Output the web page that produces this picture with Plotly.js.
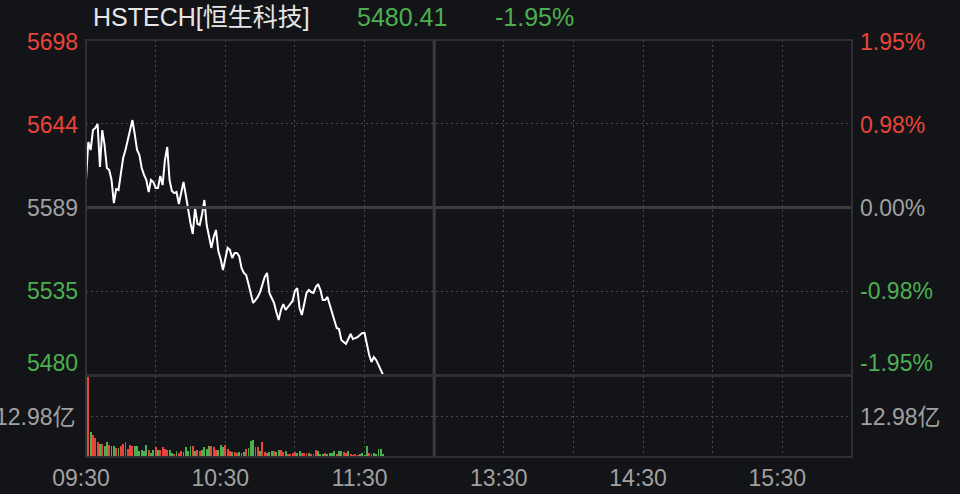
<!DOCTYPE html>
<html>
<head>
<meta charset="utf-8">
<script src="https://cdn.plot.ly/plotly-3.0.1.min.js"></script>
<style>
  html, body { margin: 0; padding: 0; background: #131418; }
  #chart { width: 960px; height: 494px; }
</style>
</head>
<body>
<div id="chart"></div>
<script>
// ---- Data ----
const indexName = 'HSTECH[恒生科技]';
const prevClose = 5589.4;
const timeLabels = ['09:30', '10:30', '11:30', '13:30', '14:30', '15:30'];
// one price per minute from 09:30
const prices = [
  5607.3, 5632.0, 5626.8, 5639.8, 5641.1, 5643.7, 5615.8, 5639.8, 5630.1, 5615.1,
  5613.8, 5607.3, 5592.3, 5601.4, 5600.8, 5610.6, 5621.6, 5626.8, 5633.3, 5641.8,
  5646.3, 5637.2, 5626.8, 5623.6, 5615.1, 5610.6, 5607.3, 5599.5, 5607.3, 5606.0,
  5602.1, 5602.1, 5609.9, 5604.0, 5620.3, 5628.8, 5607.3, 5600.1, 5598.8, 5599.5,
  5591.7, 5598.8, 5606.0, 5597.5, 5587.8, 5579.3, 5572.2, 5589.1, 5578.7, 5578.0,
  5585.2, 5594.3, 5578.0, 5569.6, 5563.1, 5570.2, 5574.8, 5561.1, 5555.9, 5548.7,
  5555.2, 5563.1, 5561.8, 5556.5, 5559.8, 5559.8, 5557.8, 5550.0, 5546.8, 5545.5,
  5539.6, 5532.5, 5527.3, 5529.2, 5531.2, 5534.4, 5539.6, 5544.2, 5546.8, 5533.8,
  5530.5, 5527.3, 5521.4, 5516.2, 5522.7, 5526.6, 5522.7, 5524.7, 5526.0, 5528.6,
  5535.1, 5537.0, 5524.0, 5519.5, 5526.6, 5533.8, 5535.7, 5534.4, 5533.8, 5537.7,
  5539.6, 5535.7, 5529.2, 5529.2, 5531.2, 5526.0, 5520.1, 5515.6, 5511.0, 5510.3,
  5503.2, 5501.9, 5500.6, 5503.8, 5507.1, 5503.8, 5504.5, 5505.1, 5506.4, 5507.7,
  5507.7, 5499.9, 5493.4, 5488.9, 5492.1, 5490.2, 5486.9, 5484.3, 5480.41
];
// turnover per minute (亿), minutes 1..128
const volumes = [
  25.96, 8.0, 7.2, 6.0, 4.9, 4.3, 4.3, 3.4, 4.9, 4.0,
  3.6, 3.4, 2.9, 2.9, 3.4, 4.3, 4.9, 2.7, 3.9, 3.4,
  3.6, 3.6, 2.0, 2.3, 2.0, 3.9, 2.3, 1.4, 2.3, 3.1,
  2.3, 2.3, 3.1, 2.7, 2.3, 2.3, 1.4, 1.1, 2.0, 1.4,
  2.0, 1.6, 3.3, 2.0, 3.6, 3.4, 2.0, 2.3, 2.0, 2.3,
  3.1, 2.7, 3.6, 3.4, 3.1, 2.3, 2.3, 3.9, 3.3, 3.9,
  2.7, 2.0, 1.6, 1.6,
  1.4, 1.6, 1.4, 1.6, 2.5, 2.9, 5.2, 5.6, 3.3, 3.3,
  2.0, 4.9, 1.6, 1.4, 1.6, 2.0, 2.0, 1.6, 2.3, 2.3,
  1.6, 2.0, 1.1, 1.1, 1.4, 1.6, 1.4, 2.0, 1.4, 1.4,
  1.2, 1.4, 1.1, 0.9, 2.3, 2.0, 1.1, 1.1, 1.2, 0.9,
  1.2, 1.2, 2.0, 1.1, 2.0, 2.0, 1.6, 1.4, 2.0, 0.9,
  0.7, 1.1, 0.7, 0.9, 1.2, 0.7, 3.6, 1.2, 0.9, 1.2,
  0.9, 2.5, 2.5, 0.9
];
// 1 = up (red), -1 = down (green)
const volDir = [
  1, -1, 1, 1, 1, -1, 1, -1, -1, 1,
  -1, -1, 1, -1, 1, 1, 1, 1, 1, 1,
  -1, -1, -1, -1, -1, -1, 1, -1, -1, 1,
  -1, 1, 1, 1, 1, -1, -1, 1, -1, 1,
  1, -1, -1, -1, -1, 1, -1, 1, 1, -1,
  -1, -1, -1, 1, 1, 1, -1, -1, -1, 1,
  1, 1, -1, 1,
  1, -1, -1, -1, 1, -1, -1, -1, 1, 1,
  -1, 1, 1, 1, -1, -1, 1, -1, -1, 1,
  1, -1, 1, 1, 1, 1, -1, -1, 1, 1,
  1, -1, 1, 1, 1, -1, -1, -1, 1, -1,
  -1, -1, -1, 1, -1, -1, 1, 1, -1, 1,
  1, 1, 1, -1, -1, -1, -1, 1, 1, -1,
  -1, -1, -1, -1
];

// ---- Styling ----
const BG = '#131418';
const RED = '#e8443a';
const GREEN = '#4caf50';
const GRAY = '#a0a0a0';
const FRAME = '#303034';
const GRID = '#4a4a4e';
const FONT = 'Liberation Sans, Arial, Noto Sans CJK SC, sans-serif';

const W = 960, H = 494;
const L = 86, R = 852, T = 40, B = 457;
const PRICE_BOTTOM = 375, VOL_TOP = 376;
const plotH = B - T, plotW = R - L;
const px2x = px => (px - L) / plotW;
const px2y = py => (B - py) / plotH;

const last = prices[prices.length - 1];
const maxDev = Math.max(...prices.map(p => Math.abs(p - prevClose))) / prevClose;
const topPct = Math.round(maxDev * 10000) / 100;           // e.g. 1.95
const round2 = v => Math.sign(v) * Math.round(Math.abs(v) * 100 + 1e-6) / 100;
const pct = v => round2(v).toFixed(2) + '%';
const ks = [1, 0.5, 0, -0.5, -1];
const levels = ks.map(k => prevClose * (1 + k * maxDev));
const pctLevels = ks.map(k => k * topPct);
const levelColors = [RED, RED, GRAY, GREEN, GREEN];
const levelShift = [-2, -1, 0, 0, 12];

const volMax = Math.max(...volumes);
const xMin = prices.map((_, i) => i);
const volX = volumes.map((_, i) => i + 1);

const traces = [
  {
    type: 'scatter', mode: 'lines', x: xMin, y: prices,
    xaxis: 'x', yaxis: 'y',
    line: { color: '#ffffff', width: 2 },
    hoverinfo: 'skip'
  },
  {
    type: 'bar', x: volX, y: volumes,
    xaxis: 'x', yaxis: 'y2',
    width: 0.82,
    marker: { color: volDir.map(d => d > 0 ? RED : GREEN), line: { width: 0 } },
    hoverinfo: 'skip'
  }
];

const gridVals = [];
for (let m = 0; m <= 330; m += 30) gridVals.push(m);
const gridText = gridVals.map(m => {
  const idx = [0, 60, 120, 180, 240, 300].indexOf(m);
  return idx >= 0 ? timeLabels[idx] : '';
});

const annotations = [];
// title row
const pctChange = (last / prevClose - 1) * 100;
[[indexName, 91, '#e6e6e6'], [last.toFixed(2), 355, GREEN], [pct(pctChange), 493, GREEN]].forEach(([t, px, c]) => {
  annotations.push({
    text: t, xref: 'paper', yref: 'paper', x: px2x(px), y: px2y(17),
    xanchor: 'left', yanchor: 'middle', showarrow: false,
    font: { family: FONT, size: 25, color: c }
  });
});
levels.forEach((lv, i) => {
  annotations.push({
    text: lv.toFixed(0), xref: 'paper', yref: 'y', x: px2x(80), y: lv,
    xanchor: 'right', yanchor: 'middle', yshift: levelShift[i], showarrow: false,
    font: { family: FONT, size: 23, color: levelColors[i] }
  });
  annotations.push({
    text: pct(pctLevels[i]), xref: 'paper', yref: 'y', x: px2x(858), y: lv,
    xanchor: 'left', yanchor: 'middle', yshift: levelShift[i], showarrow: false,
    font: { family: FONT, size: 23, color: levelColors[i] }
  });
});
const volLabel = (volMax / 2).toFixed(2) + '亿';
annotations.push({
  text: volLabel, xref: 'paper', yref: 'y2', x: px2x(78), y: volMax / 2,
  xanchor: 'right', yanchor: 'middle', showarrow: false,
  font: { family: FONT, size: 23, color: GRAY }
});
annotations.push({
  text: volLabel, xref: 'paper', yref: 'y2', x: px2x(858), y: volMax / 2,
  xanchor: 'left', yanchor: 'middle', showarrow: false,
  font: { family: FONT, size: 23, color: GRAY }
});

const shapes = [
  // mid (previous close) line
  { type: 'line', xref: 'paper', yref: 'y', x0: 0, x1: 1, y0: prevClose, y1: prevClose,
    line: { color: '#3c3c40', width: 3 } },
  // lunch break line
  { type: 'line', xref: 'x', yref: 'paper', x0: 150, x1: 150, y0: 0, y1: 1,
    line: { color: '#3c3c40', width: 3 } },
  // frames
  { type: 'rect', xref: 'paper', yref: 'paper', x0: 0, x1: 1, y0: px2y(PRICE_BOTTOM), y1: 1,
    line: { color: FRAME, width: 2 } },
  { type: 'rect', xref: 'paper', yref: 'paper', x0: 0, x1: 1, y0: 0, y1: px2y(VOL_TOP),
    line: { color: FRAME, width: 2 } }
];

const layout = {
  width: W, height: H,
  paper_bgcolor: BG, plot_bgcolor: BG,
  margin: { l: L, r: W - R, t: T, b: H - B, pad: 0 },
  showlegend: false,
  bargap: 0,
  font: { family: FONT, color: GRAY },
  xaxis: {
    domain: [0, 1], anchor: 'y2', range: [0, 330],
    tickmode: 'array', tickvals: gridVals, ticktext: gridText,
    showgrid: true, gridcolor: GRID, gridwidth: 1, griddash: '2px,3px',
    zeroline: false, showline: false, ticks: '',
    ticklabelshift: -5, ticklabelstandoff: 5,
    tickfont: { family: FONT, size: 23, color: GRAY },
    fixedrange: true
  },
  yaxis: {
    domain: [px2y(PRICE_BOTTOM), 1], anchor: 'x',
    range: [levels[4], levels[0]],
    tickmode: 'array', tickvals: levels, showticklabels: false,
    showgrid: true, gridcolor: GRID, gridwidth: 1, griddash: '2px,3px',
    zeroline: false, showline: false, ticks: '', fixedrange: true
  },
  yaxis2: {
    domain: [0, px2y(VOL_TOP)], anchor: 'x',
    range: [0, volMax * 1.005],
    tickmode: 'array', tickvals: [volMax / 2], showticklabels: false,
    showgrid: true, gridcolor: GRID, gridwidth: 1, griddash: '2px,3px',
    zeroline: false, showline: false, ticks: '', fixedrange: true
  },
  annotations: annotations,
  shapes: shapes
};

Plotly.newPlot('chart', traces, layout, { staticPlot: true, displayModeBar: false });
</script>
</body>
</html>
